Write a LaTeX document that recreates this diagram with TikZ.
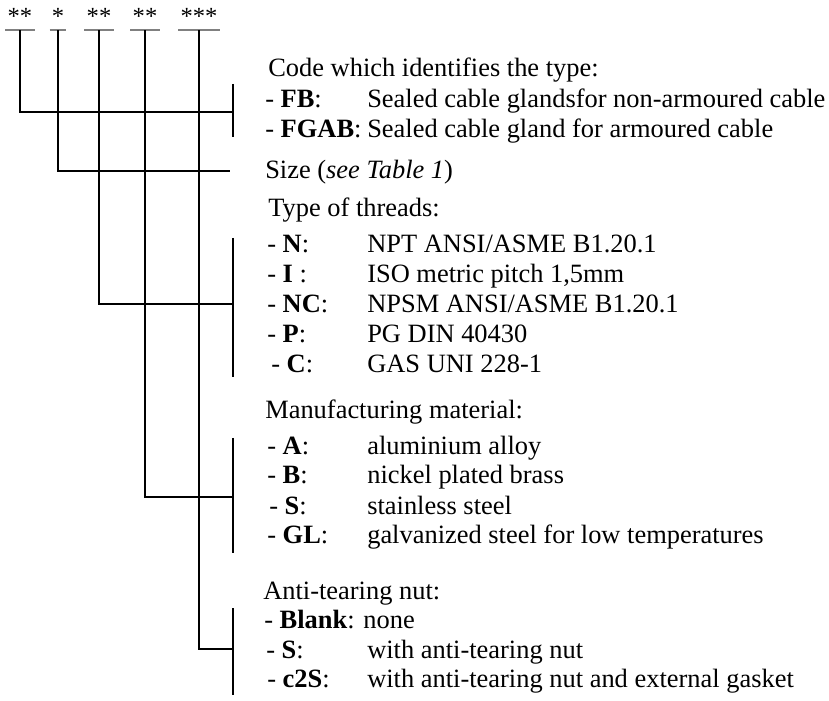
\documentclass[tikz,border=0pt]{standalone}
\usepackage{fontspec}
\setmainfont{Liberation Serif}
\usepackage{tikz}

\begin{document}
\begin{tikzpicture}[
    x=0.025cm, y=-0.025cm,
    txt/.style={anchor=base west, inner sep=0pt, font=\fontsize{18.8}{22}\selectfont},
    starbox/.style={anchor=base, inner xsep=0.05cm, inner ysep=0pt, text depth=0.125cm, font=\fontsize{17.5}{20}\selectfont},
    uline/.style={black!50, line width=1.2pt},
    lead/.style={line width=1.1pt}
]

\useasboundingbox (0,0) rectangle (829,701);

% Code fields
\node[starbox] (typestar) at (20,25) {**};
\node[starbox] (sizestar) at (58,25) {*};
\node[starbox] (threadstar) at (99,25) {**};
\node[starbox] (matstar) at (145,25) {**};
\node[starbox] (nutstar) at (199,25) {***};

\foreach \s in {typestar,sizestar,threadstar,matstar,nutstar}
    \draw[uline] (\s.south west) -- (\s.south east);

% Type
\node[txt] (typehd) at (268,77) {Code which identifies the type:};
\node[txt] (fb) at (265,108) {- \textbf{FB}:};
\node[txt] (fbval) at (367,108) {Sealed cable glandsfor non-armoured cable};
\node[txt] (fgab) at (265,138) {- \textbf{FGAB}:};
\node[txt] (fgabval) at (367,138) {Sealed cable gland for armoured cable};

% Size
\node[txt] (sizehd) at (265,179) {Size (\textit{see Table 1})};

% Threads
\node[txt] (threadhd) at (268,217) {Type of threads:};
\node[txt] (thrn) at (267,253) {- \textbf{N}:};
\node[txt] (thrnval) at (367,253) {NPT ANSI/ASME B1.20.1};
\node[txt] (thri) at (267,283) {- \textbf{I} :};
\node[txt] (thrival) at (367,283) {ISO metric pitch 1,5mm};
\node[txt] (thrnc) at (267,313) {- \textbf{NC}:};
\node[txt] (thrncval) at (367,313) {NPSM ANSI/ASME B1.20.1};
\node[txt] (thrp) at (267,343) {- \textbf{P}:};
\node[txt] (thrpval) at (367,343) {PG DIN 40430};
\node[txt] (thrc) at (271,373) {- \textbf{C}:};
\node[txt] (thrcval) at (367,373) {GAS UNI 228-1};

% Material
\node[txt] (mathd) at (265,419) {Manufacturing material:};
\node[txt] (mata) at (267,455) {- \textbf{A}:};
\node[txt] (mataval) at (367,455) {aluminium alloy};
\node[txt] (matb) at (267,484) {- \textbf{B}:};
\node[txt] (matbval) at (367,484) {nickel plated brass};
\node[txt] (mats) at (269,514) {- \textbf{S}:};
\node[txt] (matsval) at (367,514) {stainless steel};
\node[txt] (matgl) at (267,543) {- \textbf{GL}:};
\node[txt] (matglval) at (367,543) {galvanized steel for low temperatures};

% Nut
\node[txt] (nuthd) at (263,599) {Anti-tearing nut:};
\node[txt] (nutblank) at (264,628) {- \textbf{Blank}: none};
\node[txt] (nuts) at (266,658) {- \textbf{S}:};
\node[txt] (nutsval) at (367,658) {with anti-tearing nut};
\node[txt] (nutc) at (267,687) {- \textbf{c2S}:};
\node[txt] (nutcval) at (367,687) {with anti-tearing nut and external gasket};

% Brackets
\coordinate (typetop) at (233,84);
\coordinate (typebot) at (233,137);
\coordinate (typejoin) at (233,112);
\coordinate (sizeend) at (230,171);
\coordinate (threadtop) at (233,238);
\coordinate (threadbot) at (233,377);
\coordinate (threadjoin) at (233,304);
\coordinate (mattop) at (233,438);
\coordinate (matbot) at (233,553);
\coordinate (matjoin) at (233,497);
\coordinate (nuttop) at (233,608);
\coordinate (nutbot) at (233,695);
\coordinate (nutjoin) at (233,649);

\draw[lead] (typetop) -- (typebot);
\draw[lead] (threadtop) -- (threadbot);
\draw[lead] (mattop) -- (matbot);
\draw[lead] (nuttop) -- (nutbot);

% Leads
\draw[lead] (typestar.south) |- (typejoin);
\draw[lead] (sizestar.south) |- (sizeend);
\draw[lead] (threadstar.south) |- (threadjoin);
\draw[lead] (matstar.south) |- (matjoin);
\draw[lead] (nutstar.south) |- (nutjoin);

\end{tikzpicture}
\end{document}
